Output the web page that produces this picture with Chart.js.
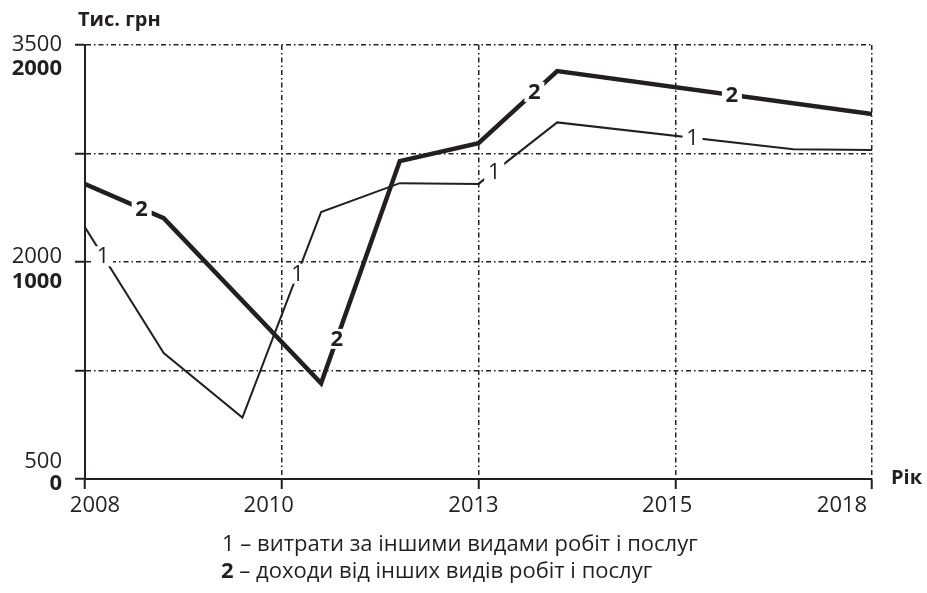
<!DOCTYPE html>
<html lang="uk">
<head>
<meta charset="utf-8">
<script src="https://cdn.jsdelivr.net/npm/chart.js@4.4.0/dist/chart.umd.min.js"></script>
<style>
  body { margin: 0; background: #fff; font-family: "Open Sans", sans-serif; color: #231f20; }
  #wrap { position: relative; width: 927px; height: 593px; }
  canvas { position: absolute; left: 0; top: 0; }
  .t { position: absolute; line-height: 20px; white-space: nowrap; font-size: 20px; }
  .leg { font-size: 22px; }
</style>
</head>
<body>
<div id="wrap">
  <canvas id="chart" width="927" height="593"></canvas>
  <div class="t" style="left:78px;top:9px;font-weight:bold">Тис. грн</div>
  <div class="t" style="left:891px;top:467px;font-weight:bold">Рік</div>
  <div class="t leg" style="left:222px;top:532px">1 – витрати за іншими видами робіт і послуг</div>
  <div class="t leg" style="left:221px;top:559px"><b>2</b> – доходи від інших видів робіт і послуг</div>
</div>
<script>
// осі: роки стоять нерівномірно, тому x іде кроками 0..10
const xTicks = [0, 2.5, 5, 7.5, 10];
const xTickLabels = ['2008', '2010', '2013', '2015', '2018'];

// 1 - витрати (шкала 500..3500)
const costX = [0, 1, 2, 3, 4, 5, 6, 9, 10];
const costY = [2240, 1370, 925, 2345, 2545, 2540, 2965, 2780, 2775];
const costTicks = [500, 2000, 3500];

// 2 - доходи (шкала 0..2000)
const incomeX = [0, 1, 3, 4, 5, 6, 10];
const incomeY = [1359, 1202, 441, 1465, 1548, 1880, 1682];
const incomeTicks = [0, 1000, 2000];

// де на лініях стоять цифри 1 і 2
const costMarkX = [0.23, 2.7, 5.2, 7.72];
const incomeMarkX = [0.72, 3.2, 5.71, 8.22];

const ink = '#231f20';
const font = '"Open Sans", sans-serif';

function pts(xs, ys) {
  return xs.map((x, i) => ({ x: x, y: ys[i] }));
}

function yAt(xs, ys, x) {
  for (let i = 0; i < xs.length - 1; i++) {
    if (x >= xs[i] && x <= xs[i + 1]) {
      const k = (x - xs[i]) / (xs[i + 1] - xs[i]);
      return ys[i] + k * (ys[i + 1] - ys[i]);
    }
  }
  return ys[ys.length - 1];
}

// цифри-підписи прямо на лініях
const lineMarks = {
  id: 'lineMarks',
  afterDatasetsDraw(chart) {
    const ctx = chart.ctx;
    const x = chart.scales.x;
    const sets = [
      { xs: costX, ys: costY, marks: costMarkX, scale: chart.scales.y, text: '1', weight: 'normal' },
      { xs: incomeX, ys: incomeY, marks: incomeMarkX, scale: chart.scales.y2, text: '2', weight: 'bold' }
    ];
    ctx.save();
    ctx.textAlign = 'center';
    ctx.textBaseline = 'middle';
    sets.forEach(s => {
      ctx.font = s.weight + ' 22px ' + font;
      s.marks.forEach(m => {
        const px = x.getPixelForValue(m);
        const py = s.scale.getPixelForValue(yAt(s.xs, s.ys, m));
        ctx.fillStyle = '#fff';
        ctx.fillRect(px - 10, py - 10, 20, 20);
        ctx.fillStyle = ink;
        ctx.fillText(s.text, px, py + 1);
      });
    });
    ctx.restore();
  }
};

// підписи поділок: по два числа біля кожної лінії сітки
const tickText = {
  id: 'tickText',
  afterDraw(chart) {
    const ctx = chart.ctx;
    const { x, y, y2 } = chart.scales;
    const xShift = [10, -13, -5, -8, -30];
    const normalShift = [-11, 1, 6];
    const boldShift = [11, 26, 30];
    ctx.save();
    ctx.fillStyle = ink;
    ctx.textBaseline = 'alphabetic';
    ctx.textAlign = 'center';
    ctx.font = '22px ' + font;
    xTicks.forEach((v, i) => {
      ctx.fillText(xTickLabels[i], x.getPixelForValue(v) + xShift[i], 512);
    });
    ctx.textAlign = 'right';
    costTicks.forEach((v, i) => {
      ctx.font = '22px ' + font;
      ctx.fillText(String(v), 62, y.getPixelForValue(v) + normalShift[i]);
      ctx.font = 'bold 22px ' + font;
      ctx.fillText(String(incomeTicks[i]), 62, y2.getPixelForValue(incomeTicks[i]) + boldShift[i]);
    });
    ctx.restore();
  }
};

const gridStyle = {
  color: '#222',
  lineWidth: 1.5,
  drawTicks: true,
  tickLength: 10,
  tickColor: ink,
  tickWidth: 2
};

const gridDash = [5, 3, 1.5, 3];

new Chart(document.getElementById('chart'), {
  type: 'line',
  data: {
    datasets: [
      {
        label: 'витрати за іншими видами робіт і послуг',
        data: pts(costX, costY),
        yAxisID: 'y',
        borderColor: ink,
        borderWidth: 2,
        borderJoinStyle: 'miter',
        pointRadius: 0,
        tension: 0
      },
      {
        label: 'доходи від інших видів робіт і послуг',
        data: pts(incomeX, incomeY),
        yAxisID: 'y2',
        borderColor: ink,
        borderWidth: 4.5,
        borderJoinStyle: 'miter',
        pointRadius: 0,
        tension: 0
      }
    ]
  },
  options: {
    responsive: false,
    devicePixelRatio: 1,
    animation: false,
    layout: { padding: { left: 75, right: 55, top: 45, bottom: 104 } },
    plugins: { legend: { display: false }, tooltip: { enabled: false } },
    scales: {
      x: {
        type: 'linear',
        min: 0,
        max: 10,
        afterBuildTicks: s => { s.ticks = xTicks.map(v => ({ value: v })); },
        afterFit: s => { s.height = 10; },
        ticks: { display: false },
        grid: gridStyle,
        border: { display: true, color: ink, width: 2, dash: gridDash }
      },
      y: {
        min: 500,
        max: 3500,
        afterBuildTicks: s => {
          s.ticks = [500, 1250, 2000, 2750, 3500].map(v => ({ value: v }));
        },
        afterFit: s => { s.width = 10; },
        ticks: { display: false },
        grid: gridStyle,
        border: { display: true, color: ink, width: 2, dash: gridDash }
      },
      y2: {
        display: false,
        min: 0,
        max: 2000
      }
    }
  },
  plugins: [lineMarks, tickText]
});
</script>
</body>
</html>
